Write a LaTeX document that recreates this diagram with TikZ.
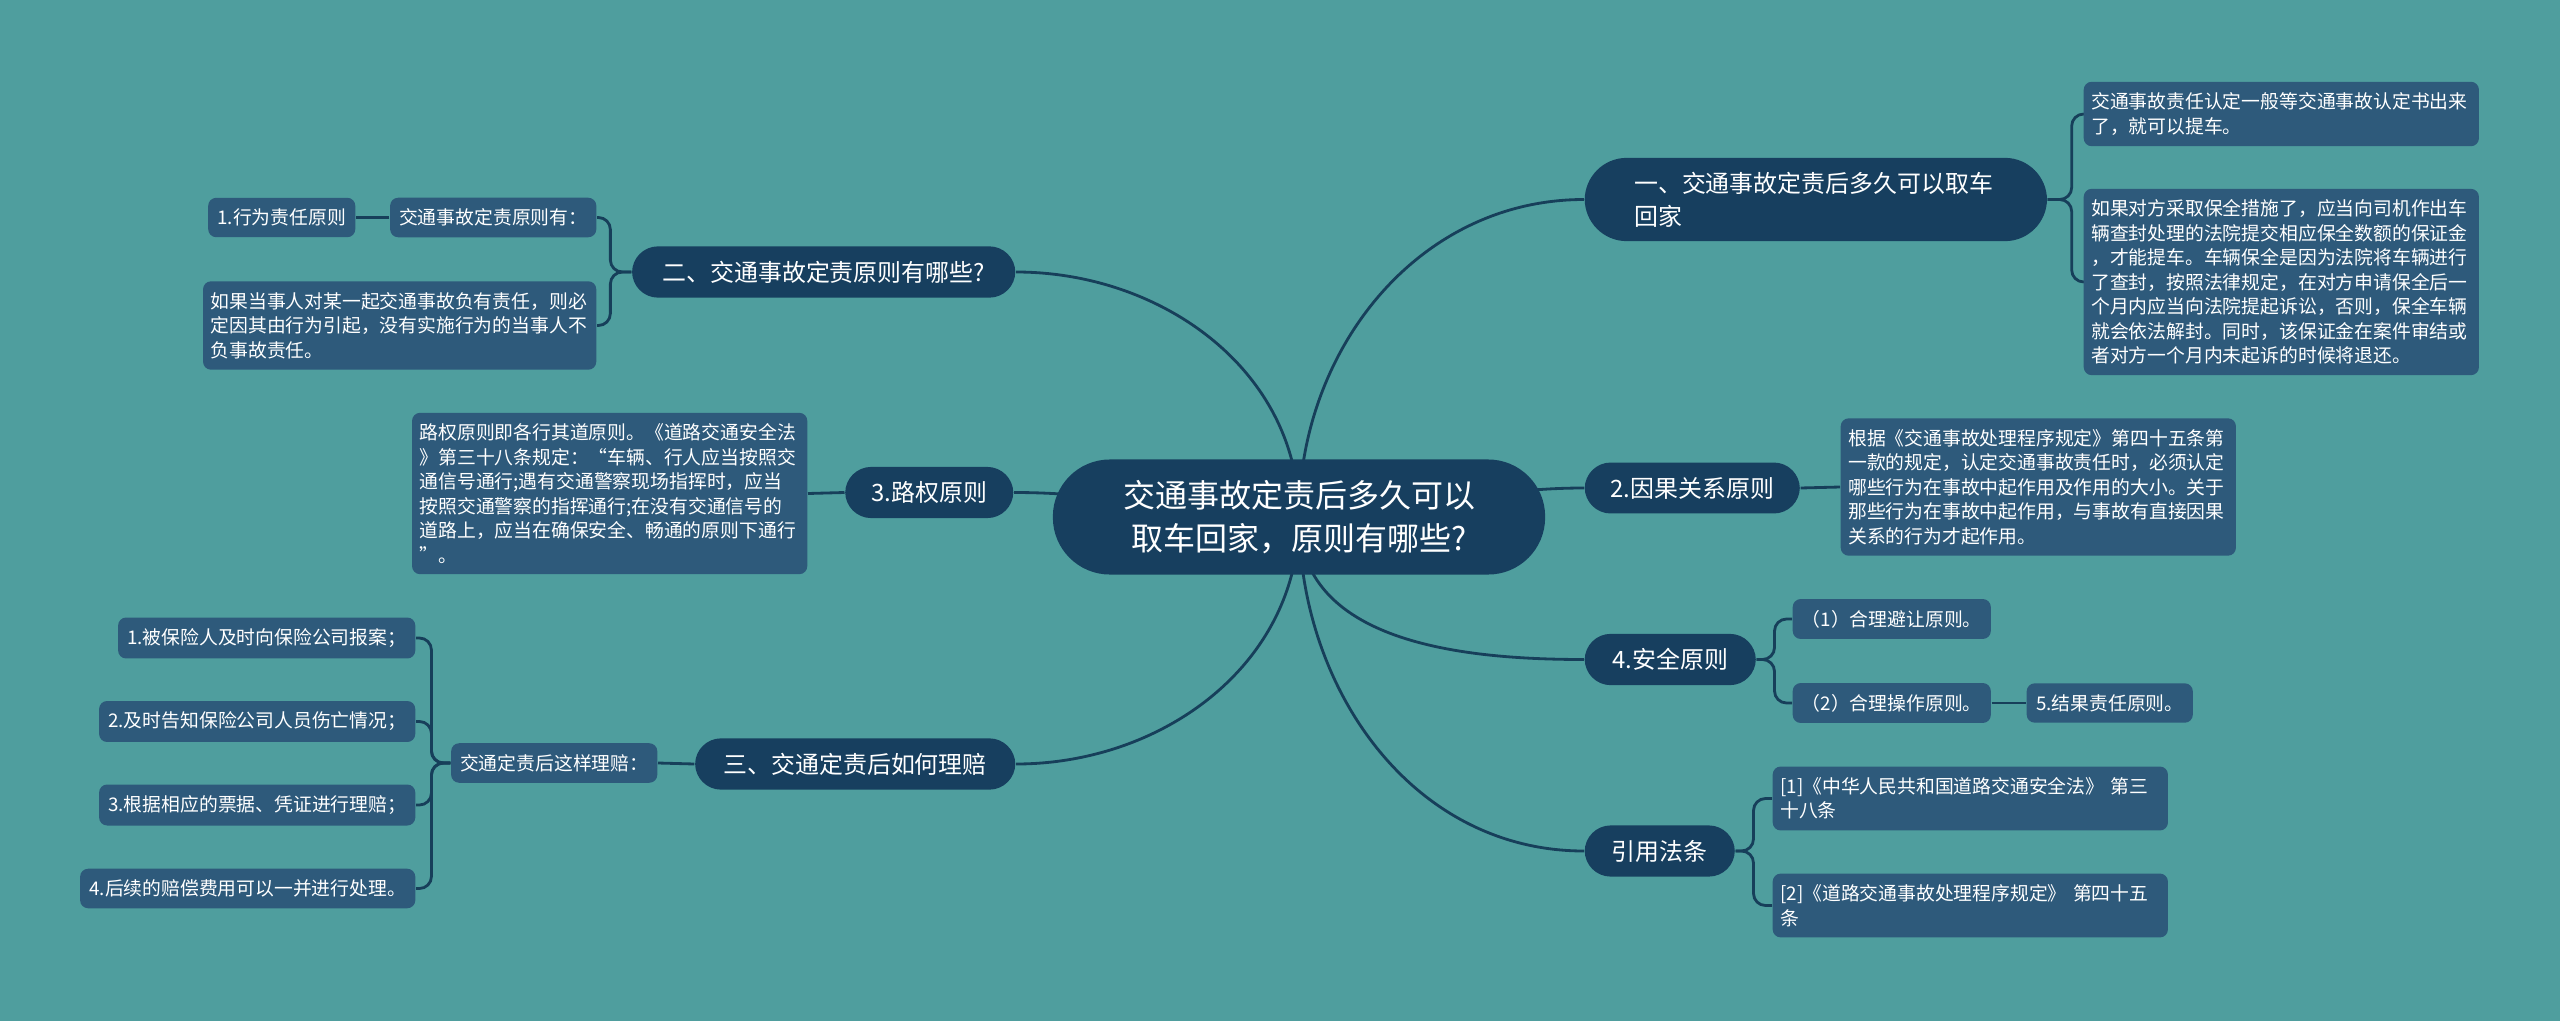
\documentclass[tikz,border=0pt]{standalone}
\usepackage{fontspec}
\setmainfont{Noto Sans CJK SC}
\usepackage{xcolor}
\usepackage{tikz}
\usetikzlibrary{positioning}

\definecolor{bgteal}{HTML}{4F9E9E}
\definecolor{topicblue}{HTML}{173F5F}
\definecolor{leafblue}{HTML}{2E5A7B}
\definecolor{linkblue}{HTML}{173F5A}

\pgfdeclarelayer{back}
\pgfdeclarelayer{wires}
\pgfsetlayers{back,wires,main}

\begin{document}
\begin{tikzpicture}[
        x=0.01cm, y=-0.01cm,
        rootnode/.style={
            fill=topicblue,
            text=white,
            rounded corners=0.57cm,
            align=center,
            minimum width=4.92cm,
            minimum height=1.15cm,
            font=\fontsize{9.1pt}{12.2pt}\selectfont
        },
        topic/.style={
            fill=topicblue,
            text=white,
            rounded corners=0.26cm,
            inner xsep=0.2cm,
            inner ysep=0.145cm,
            font=\fontsize{6.8pt}{9.4pt}\selectfont
        },
        leaf/.style={
            fill=leafblue,
            text=white,
            rounded corners=0.08cm,
            align=left,
            inner xsep=0.09cm,
            inner ysep=0.11cm,
            font=\fontsize{5.35pt}{6.95pt}\selectfont
        },
        link/.style={
            draw=linkblue,
            line width=0.8pt
        },
        fork/.style={
            link,
            rounded corners=0.12cm
        }
    ]

    \useasboundingbox (0,0) rectangle (2560,1021);
    \begin{pgfonlayer}{back}
        \fill[bgteal] (0,0) rectangle (2560,1021);
    \end{pgfonlayer}

    % Central topic
    \node[rootnode] (root) at (1299,517) {
        交通事故定责后多久可以\\取车回家，原则有哪些?
    };

    % Right side
    \node[topic, anchor=west, text width=3.63cm, align=left,
        inner xsep=0.495cm, inner ysep=0.14cm, rounded corners=0.42cm]
        (howlong) at (1584,199.5) {一、交通事故定责后多久可以取车\\回家};
    \node[leaf, anchor=west, text width=3.8cm, inner xsep=0.075cm] (howlongA) at (2083,114) {
        交通事故责任认定一般等交通事故认定书出来\\
        了，就可以提车。
    };
    \node[leaf, anchor=west, text width=3.8cm, inner xsep=0.075cm] (howlongB) at (2083,282) {
        如果对方采取保全措施了，应当向司机作出车\\
        辆查封处理的法院提交相应保全数额的保证金\\
        ，才能提车。车辆保全是因为法院将车辆进行\\
        了查封，按照法律规定，在对方申请保全后一\\
        个月内应当向法院提起诉讼，否则，保全车辆\\
        就会依法解封。同时，该保证金在案件审结或\\
        者对方一个月内未起诉的时候将退还。
    };

    \node[topic, anchor=west, minimum width=2.15cm] (cause) at (1584,488) {2.因果关系原则};
    \node[leaf, anchor=west, text width=3.8cm, inner xsep=0.075cm] (causeA) at (1840,487) {
        根据《交通事故处理程序规定》第四十五条第\\
        一款的规定，认定交通事故责任时，必须认定\\
        哪些行为在事故中起作用及作用的大小。关于\\
        那些行为在事故中起作用，与事故有直接因果\\
        关系的行为才起作用。
    };

    \node[topic, anchor=west, minimum width=1.71cm] (safety) at (1584,659.5) {4.安全原则};
    \node[leaf, anchor=west, minimum width=1.98cm] (safetyA) at (1792,619) {（1）合理避让原则。};
    \node[leaf, anchor=west, minimum width=1.98cm] (safetyB) at (1792,703) {（2）合理操作原则。};
    \node[leaf, anchor=west, minimum width=1.66cm] (safetyC) at (2026,703) {5.结果责任原则。};

    \node[topic, anchor=west, minimum width=1.5cm] (refs) at (1584,851) {引用法条};
    \node[leaf, anchor=west, text width=3.8cm, inner xsep=0.075cm] (refsA) at (1772,798.5) {
        [1]《中华人民共和国道路交通安全法》 第三\\
        十八条
    };
    \node[leaf, anchor=west, text width=3.8cm, inner xsep=0.075cm] (refsB) at (1772,905.5) {
        [2]《道路交通事故处理程序规定》 第四十五\\
        条
    };

    % Left side
    \node[topic, anchor=east, minimum width=3.83cm] (rules) at (1016,272) {二、交通事故定责原则有哪些?};
    \node[leaf, anchor=east, minimum width=2.04cm] (rulesA) at (597,217.5) {交通事故定责原则有：};
    \node[leaf, anchor=east, minimum width=1.47cm] (rulesA1) at (356,217.5) {1.行为责任原则};
    \node[leaf, anchor=east, text width=3.78cm, inner xsep=0.075cm] (rulesB) at (597,325.5) {
        如果当事人对某一起交通事故负有责任，则必\\
        定因其由行为引起，没有实施行为的当事人不\\
        负事故责任。
    };

    \node[topic, anchor=east, minimum width=1.68cm] (rightway) at (1014,492.5) {3.路权原则};
    \node[leaf, anchor=east, text width=3.8cm, inner xsep=0.075cm] (rightwayA) at (808,493.5) {
        路权原则即各行其道原则。《道路交通安全法\\
        》第三十八条规定：“车辆、行人应当按照交\\
        通信号通行;遇有交通警察现场指挥时，应当\\
        按照交通警察的指挥通行;在没有交通信号的\\
        道路上，应当在确保安全、畅通的原则下通行\\
        ”。
    };

    \node[topic, anchor=east, minimum width=3.2cm] (claim) at (1016,764) {三、交通定责后如何理赔};
    \node[leaf, anchor=east, minimum width=2.06cm] (claimA) at (658,763) {交通定责后这样理赔：};
    \node[leaf, anchor=east, minimum width=2.97cm] (claim1) at (416,638) {1.被保险人及时向保险公司报案；};
    \node[leaf, anchor=east, minimum width=3.16cm] (claim2) at (416,721.5) {2.及时告知保险公司人员伤亡情况；};
    \node[leaf, anchor=east, minimum width=3.16cm] (claim3) at (416,805) {3.根据相应的票据、凭证进行理赔；};
    \node[leaf, anchor=east, minimum width=3.35cm] (claim4) at (416,888.5) {4.后续的赔偿费用可以一并进行处理。};

    % Connectors
    \begin{pgfonlayer}{wires}
        \draw[link] (root.center) to[out=90, in=180] (howlong.west);
        \draw[link] (root.center) to[out=0, in=180] (cause.west);
        \draw[link] (root.center) to[out=-90, in=180] (safety.west);
        \draw[link] (root.center) to[out=-90, in=180] (refs.west);
        \draw[link] (root.center) to[out=90, in=0] (rules.east);
        \draw[link] (root.center) to[out=180, in=0] (rightway.east);
        \draw[link] (root.center) to[out=-90, in=0] (claim.east);

        \draw[fork] (howlong.east) -- ++(24,0) |- (howlongA.west);
        \draw[fork] (howlong.east) -- ++(24,0) |- (howlongB.west);
        \draw[link] (cause.east) -- (causeA.west);
        \draw[fork] (safety.east) -- ++(18,0) |- (safetyA.west);
        \draw[fork] (safety.east) -- ++(18,0) |- (safetyB.west);
        \draw[link] (safetyB.east) -- (safetyC.west);
        \draw[fork] (refs.east) -- ++(18,0) |- (refsA.west);
        \draw[fork] (refs.east) -- ++(18,0) |- (refsB.west);

        \draw[fork] (rules.west) -- ++(-21,0) |- (rulesA.east);
        \draw[fork] (rules.west) -- ++(-21,0) |- (rulesB.east);
        \draw[link] (rulesA.west) -- (rulesA1.east);
        \draw[link] (rightway.west) -- (rightwayA.east);
        \draw[link] (claim.west) -- (claimA.east);
        \foreach \n in {1,...,4}
            \draw[fork] (claimA.west) -- ++(-19,0) |- (claim\n.east);
    \end{pgfonlayer}

\end{tikzpicture}
\end{document}
